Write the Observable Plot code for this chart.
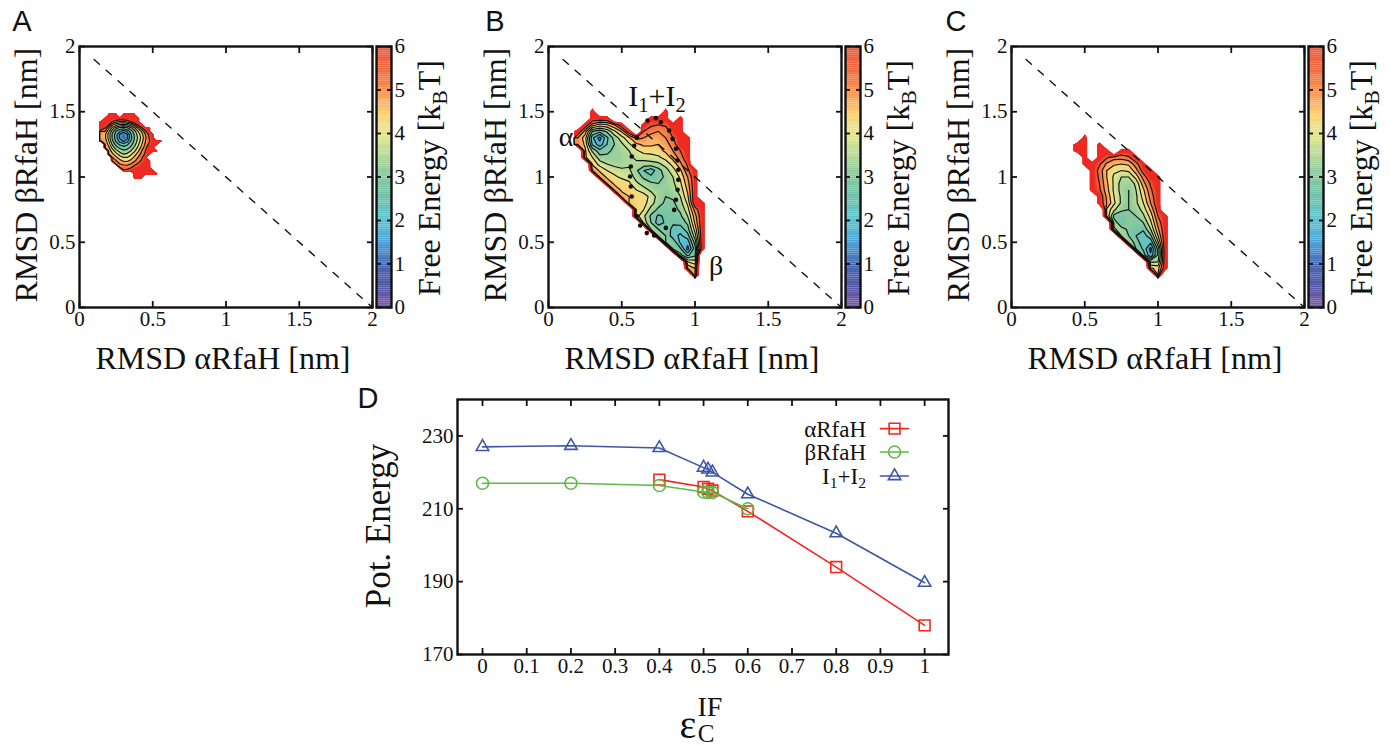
<!DOCTYPE html>
<html><head><meta charset="utf-8">
<script src="https://cdn.jsdelivr.net/npm/d3@7"></script>
<script src="https://cdn.jsdelivr.net/npm/@observablehq/plot@0.6"></script>
<style>
html,body{margin:0;padding:0;background:#fff}
#root{position:relative;width:1390px;height:746px;overflow:hidden;font-family:"Liberation Serif",serif;color:#111}
#root>svg{position:absolute}
.lb{position:absolute;white-space:nowrap;line-height:1}
.lb sub{font-size:.68em;line-height:0;vertical-align:-.3em}
</style></head><body><div id="root"></div>
<script>
const _ = NaN;
// ---- Free-energy maps: rows from top (high βRMSD) to bottom; columns low → high αRMSD
const gridAx = {start:0.15, step:0.025, n:17};
const gridAy = {start:1.475, step:0.025};
const gridA = [
[_,_,6,6,6,_,6,6,6,6,_,_,_,_,_,_,_],
[_,6,6,6,6,6,6,6,6,6,6,_,_,_,_,_,_],
[6,6,6,5.5,5.2,5,5,5.2,5.5,6,6,_,_,_,_,_,_],
[6,6,5.5,4.6,4.2,3.9,3.8,3.9,4.3,4.9,5.6,6,_,_,_,_,_],
[6,5.5,4.6,3.8,3.2,2.8,2.7,2.9,3.3,3.9,4.6,5.4,6,6,_,_,_],
[5,5,4.1,3.2,2.5,2.1,1.7,2.1,2.7,3.3,4,4.6,5.4,6,_,_,_],
[4.8,4.6,3.8,2.9,2.2,1.4,1,1.4,2.4,3.1,3.7,4.3,5,5.6,6,_,_],
[4.8,4.6,3.8,2.9,2.2,1.4,.9,1.3,2.3,3,3.6,4.2,4.9,5.5,6,_,_],
[5,4.8,4,3.1,2.4,1.8,1.4,1.8,2.5,3.1,3.7,4.3,5,5.4,6,6,6],
[_,5,4.3,3.4,2.8,2.4,2.2,2.4,2.8,3.3,3.9,4.5,5.1,5.6,6,6,_],
[_,5,4.6,3.8,3.2,2.9,2.7,2.8,3.1,3.6,4.1,4.7,5.3,6,6,_,_],
[_,_,4.8,4.3,3.7,3.3,3.1,3.2,3.5,3.9,4.4,5,5.5,6,6,6,_],
[_,_,5,4.6,4.2,3.8,3.5,3.6,3.9,4.3,4.7,5.2,5.6,6,_,_,_],
[_,_,_,5,4.6,4.2,4,4,4.2,4.6,5,5.4,6,_,_,_,_],
[_,_,_,5.2,5,4.7,4.4,4.4,4.6,4.9,5.2,5.6,5.9,6,_,_,_],
[_,_,_,_,5.2,5,4.9,4.8,5,5.3,5.6,5.8,6,6,_,_,_],
[_,_,_,_,_,5.4,5.2,5.3,5.4,5.7,5.8,6,6,6,_,_,_],
[_,_,_,_,_,_,5.6,5.6,5.8,6,6,6,6,6,6,_,_],
[_,_,_,_,_,_,_,_,_,6,6,6,6,6,6,6,_],
[_,_,_,_,_,_,_,_,_,6,6,6,_,_,_,_,_]
];
const gridBx = {start:0.20, step:0.05, n:19};
const gridBy = {start:1.50, step:0.05};
const gridB = [
[_,_,6,_,_,_,_,_,_,_,_,_,6,_,_,_,_,_,_],
[_,_,6,6,6,_,_,_,_,_,6,6,6,_,6,_,_,_,_],
[_,6,4.8,4.3,4.5,5,6,_,_,6,5.6,5.5,5.6,6,6,_,_,_,_],
[6,4.8,3,2.7,3.1,3.9,4.6,6,_,5.5,5.2,5,5.2,5.8,6,_,_,_,_],
[5,4.2,2.1,1.3,2.4,3.2,3.8,4.4,5.2,5,4.7,4.8,5,5.5,6,6,_,_,_],
[5,4.4,2.4,1.7,2.5,3,3.4,3.9,4.4,4.6,4.6,4.5,4.8,5.2,6,6,_,_,_],
[_,4.6,3.4,2.7,2.9,3.1,3.3,3.5,3.9,4.2,4.2,4.3,4.6,5,5.5,6,_,_,_],
[_,4.6,4,3.2,3.1,3.1,3.2,3.4,3.6,3.7,3.8,3.9,4.2,4.7,5.2,6,_,_,_],
[_,_,4.4,3.8,3.5,3.3,3.3,3.4,3.4,3.3,3.3,3.4,3.7,4.2,4.9,5.6,_,_,_],
[_,_,5,4.4,4,3.8,3.6,3.6,3.1,2.5,2.2,2.8,3.3,3.8,4.4,5.4,6,_,_],
[_,_,_,4.9,4.4,4.1,3.9,3.8,3.3,2.9,2.6,2.8,3.1,3.5,4.1,5,6,_,_],
[_,_,_,_,4.9,4.4,4.3,4.1,3.6,3.3,3.1,3,3.1,3.4,3.9,4.8,6,_,_],
[_,_,_,_,_,4.9,4.4,4.4,4,3.7,3.4,3.2,3.1,3.3,3.7,4.6,6,_,_],
[_,_,_,_,_,_,4.8,4.5,4.3,4.3,3.8,3.3,3,3.1,3.5,4.4,6,_,_],
[_,_,_,_,_,_,_,4.5,4.3,4.2,3.7,3.2,2.9,2.9,3.3,4.1,6,6,_],
[_,_,_,_,_,_,_,_,4.5,4,3.3,2.9,2.8,2.8,3.1,3.8,5.2,6,_],
[_,_,_,_,_,_,_,_,4.2,3.6,2.9,2.4,2.6,2.7,2.9,3.5,4.8,6,_],
[_,_,_,_,_,_,_,_,_,3.8,3,2.2,2.6,2.6,2.7,3.1,4.6,6,_],
[_,_,_,_,_,_,_,_,_,_,3.4,3,2.9,2.3,2.2,2.8,4.2,6,_],
[_,_,_,_,_,_,_,_,_,_,_,3.2,3,2.2,1.9,2.3,3.8,6,_],
[_,_,_,_,_,_,_,_,_,_,_,_,3,2.9,1.9,1.7,3.2,6,_],
[_,_,_,_,_,_,_,_,_,_,_,_,_,2.9,2.6,1.3,2.8,6,_],
[_,_,_,_,_,_,_,_,_,_,_,_,_,_,3.2,2.4,2.9,_,_],
[_,_,_,_,_,_,_,_,_,_,_,_,_,_,_,4,3.7,_,_],
[_,_,_,_,_,_,_,_,_,_,_,_,_,_,_,5,4.5,_,_],
[_,_,_,_,_,_,_,_,_,_,_,_,_,_,_,_,4.5,_,_]
];
const gridCx = {start:0.45, step:0.05, n:14};
const gridCy = {start:1.30, step:0.05};
const gridC = [
[_,6,_,_,_,_,_,_,_,_,_,_,_,_],
[6,6,_,6,_,_,_,_,_,_,_,_,_,_],
[6,6,_,6,6,_,6,6,_,_,_,_,_,_],
[_,6,_,6,5.6,5.2,5.2,5.4,6,_,_,_,_,_],
[_,6,6,5.6,4.9,4.6,4.5,4.6,5.3,6,_,_,_,_],
[_,_,6,5.3,4.5,4.1,4,4.1,4.8,5.8,6,_,_,_],
[_,_,6,5.4,4.5,3.9,3.5,3.5,4.2,5.2,6,6,_,_],
[_,_,6,5.5,4.6,3.9,3.3,3.2,3.6,4.8,5.6,6,_,_],
[_,_,6,5.6,4.7,3.9,3.3,3,3.5,4.4,5.4,6,_,_],
[_,_,_,6,4.9,4,3.4,3,3.4,4.2,5.2,6,_,_],
[_,_,_,6,5,4.1,3.4,3,3.4,4,5,6,_,_],
[_,_,_,_,4.4,3.6,3.1,3,3.2,3.7,4.6,5.8,_,_],
[_,_,_,_,4.5,2.8,2.7,2.9,3,3.4,4.2,5.5,6,_],
[_,_,_,_,_,3.3,2.6,2.9,2.9,3,3.9,5.2,6,_],
[_,_,_,_,_,3.6,3.2,2.9,2.7,2.6,3.5,4.9,6,_],
[_,_,_,_,_,_,3.4,3,2.5,2.2,2.9,4.5,6,_],
[_,_,_,_,_,_,_,3.2,2.9,2,2.1,3.9,6,_],
[_,_,_,_,_,_,_,_,3,2.4,1.3,3.2,6,_],
[_,_,_,_,_,_,_,_,_,2.8,1.6,3.1,6,_],
[_,_,_,_,_,_,_,_,_,_,3.4,3.5,6,_],
[_,_,_,_,_,_,_,_,_,_,4.6,4.3,6,_],
[_,_,_,_,_,_,_,_,_,_,_,4.5,_,_]
];
// I1+I2 boundary dots in panel B
const dotsAlpha = [.676,.733,.767,.824,.847,.870,.881,.886,.886,.881,.870,.858,.801,.721,.671,.626,.603,.568,.562,.557,.562,.568,.585,.603];
const dotsBeta  = [1.433,1.451,1.42,1.356,1.292,1.216,1.126,1.055,.978,.902,.825,.748,.610,.552,.570,.628,.700,.851,.927,1.004,1.080,1.157,1.239,1.305];
// dividing line
const diagX = [0.1, 2], diagY = [1.9, 0];
// colour
const colorStops  = [0, .5, 1, 1.5, 2, 2.5, 3, 3.5, 4, 4.4, 5, 5.5, 6];
const colorValues = ["#7a5ba6","#4f57a4","#4668b2","#4aa3d8","#5cc4d2","#6cc2ad","#85c99f","#b6da97","#e4e68e","#fbd477","#f98f4e","#f0683e","#ec5a3c"];
const mapStops  = [...colorStops.slice(0,-1), 5.75, 5.9];
const mapValues = [...colorValues.slice(0,-1), "#ee4a30", "#ee2a22"];
// Panel D
const epsAlpha = [.4,.5,.51,.52,.6,.8,1];
const potAlpha = [218,216,215.5,215,209.3,194,178];
const epsBeta  = [0,.2,.4,.5,.51,.52,.6];
const potBeta  = [217,217,216.4,214.6,214.5,214.5,210];
const epsI     = [0,.2,.4,.5,.51,.52,.6,.8,1];
const potI     = [227,227.3,226.7,221.3,220.8,220,214,203.3,189.7];
const epsTicks = [0,.1,.2,.3,.4,.5,.6,.7,.8,.9,1];
const potTicks = [170,190,210,230];
const rmsdTicks = [0,.5,1,1.5,2];
const energyTicks = [0,1,2,3,4,5,6];
const seriesColors = {a:"#f4261e", b:"#5dba45", i:"#3f55a8"};
const legendX = [.90,.963], legendMarkX = [.932], legendY = [232,225.6,219];

const root = document.getElementById("root");
function put(svg,left,top){svg.style.left=left+"px";svg.style.top=top+"px";root.appendChild(svg);}
function label(html,x,y,size,o={}){
  const d=document.createElement("div");d.className="lb";d.innerHTML=html;
  d.style.left=x+"px";d.style.top=y+"px";d.style.fontSize=size+"px";
  if(o.family)d.style.fontFamily=o.family;
  d.style.transform=`translate(${o.end?"-100%":"-50%"},-50%)`+(o.rot?` rotate(${o.rot}deg)`:"");
  root.appendChild(d);
}
const fmt = d=>String(d);
const blackFrame = ()=>Plot.frame({stroke:"#111",strokeWidth:2.4});
function axes(xt,yt,size,pad){return [
  Plot.axisX({ticks:xt,tickFormat:fmt,tickSize:-6,tickPadding:pad+6,anchor:"bottom",fontSize:size,label:null,strokeWidth:1.8,stroke:"#111"}),
  Plot.axisX({ticks:xt,tickFormat:()=>"",tickSize:-6,anchor:"top",label:null,strokeWidth:1.8,stroke:"#111"}),
  Plot.axisY({ticks:yt,tickFormat:fmt,tickSize:-6,tickPadding:pad+6,anchor:"left",fontSize:size,label:null,strokeWidth:1.8,stroke:"#111"}),
  Plot.axisY({ticks:yt,tickFormat:()=>"",tickSize:-6,anchor:"right",label:null,strokeWidth:1.8,stroke:"#111"})
];}
// energies become "depth below the 6 kBT ceiling" so nested regions paint outside-in; unsampled cells sit well over the ceiling
const outsideE = 9;
function gridMarks(rows,gx,gy){
  const flat=rows.flat().map(e=>6-(Number.isNaN(e)?outsideE:e)), h=rows.length, d=gx.step/2, e=gy.step/2;
  const o={width:gx.n,height:h,value:Plot.identity,x1:gx.start-d,x2:gx.start+(gx.n-1)*gx.step+d,
           y1:gy.start+e,y2:gy.start-(h-1)*gy.step-e,smooth:true};
  return [
    Plot.contour(flat,{...o,fill:"value",stroke:"none",thresholds:d3.range(-1,6,.1)}),
    Plot.contour(flat,{...o,stroke:"#111",strokeWidth:1.15,fill:"none",thresholds:d3.range(.5,5,.5)})
  ];
}
function panel(left,letter,rows,gx,gy,extra=[]){
  put(Plot.plot({width:378,height:360,marginLeft:79,marginRight:6,marginTop:46,marginBottom:53,
    x:{domain:[0,2]},y:{domain:[0,2]},
    color:{type:"linear",domain:[-1.5,...mapStops.map(s=>6-s).reverse()],range:["#ee2a22",...mapValues.slice().reverse()]},
    style:{fontFamily:"Liberation Serif",background:"transparent",color:"#111"},
    marks:[
      ...gridMarks(rows,gx,gy),
      Plot.line(diagX.map((x,i)=>({x,y:diagY[i]})),{x:"x",y:"y",stroke:"#111",strokeWidth:1.4,strokeDasharray:"7 9"}),
      ...extra,
      ...axes(rmsdTicks,rmsdTicks,21,4),
      blackFrame()
    ]}),left,0);
  // colour bar
  const bands=d3.range(0,6,.05);
  put(Plot.plot({width:46,height:360,marginLeft:4,marginRight:27,marginTop:46,marginBottom:53,
    x:{domain:[0,1],axis:null},y:{domain:[0,6]},
    color:{type:"linear",domain:colorStops,range:colorValues},
    style:{fontFamily:"Liberation Serif",background:"transparent",color:"#111"},
    marks:[
      Plot.rect(bands,{x1:0,x2:1,y1:d=>d,y2:d=>d+.05,fill:d=>d+.025}),
      Plot.axisY({ticks:energyTicks,tickFormat:fmt,tickSize:-5,tickPadding:8,anchor:"right",fontSize:21,label:null,strokeWidth:1.8,stroke:"#111"}),
      Plot.axisY({ticks:energyTicks,tickFormat:()=>"",tickSize:-5,anchor:"left",label:null,strokeWidth:1.8,stroke:"#111"}),
      blackFrame()
    ]}),left+372,0);
  label("RMSD αRfaH [nm]",left+223,358,32);
  label("RMSD βRfaH [nm]",left+26,175,32,{rot:-90});
  label("Free Energy [k<sub>B</sub>T]",left+429,178,32,{rot:-90});
  label(letter,left+22+(letter==="B"?4:letter==="C"?2:0),21,29,{family:"Liberation Sans"});
}
panel(0,"A",gridA,gridAx,gridAy);
panel(469,"B",gridB,gridBx,gridBy,[
  Plot.dot(dotsAlpha.map((x,i)=>({x,y:dotsBeta[i]})),{x:"x",y:"y",r:2.3,fill:"#111"})
]);
panel(932,"C",gridC,gridCx,gridCy);
label("I<sub>1</sub>+I<sub>2</sub>",657,96,30);
label("α",566,137,28);
label("β",716,266,28);

// Panel D
const rec=(X,Y)=>X.map((x,i)=>({x,y:Y[i]}));
const S=[
 {d:rec(epsAlpha,potAlpha),c:seriesColors.a,sym:"square",r:6.1},
 {d:rec(epsBeta,potBeta),c:seriesColors.b,sym:"circle",r:6},
 {d:rec(epsI,potI),c:seriesColors.i,sym:"triangle",r:4.6}
];
const seriesMarks=S.flatMap((s,i)=>[
  Plot.line(s.d,{x:"x",y:"y",stroke:s.c,strokeWidth:1.6}),
  Plot.dot(s.d,{x:"x",y:"y",stroke:s.c,symbol:s.sym,r:s.r,strokeWidth:1.6,fill:"none"}),
  Plot.line(legendX.map(x=>({x,y:legendY[i]})),{x:"x",y:"y",stroke:s.c,strokeWidth:1.6}),
  Plot.dot(legendMarkX.map(x=>({x,y:legendY[i]})),{x:"x",y:"y",stroke:s.c,symbol:s.sym,r:s.r,strokeWidth:1.6,fill:"none"})
]);
put(Plot.plot({width:560,height:300,marginLeft:57,marginRight:12,marginTop:19,marginBottom:26,
  x:{domain:[-.0566,1.054]},y:{domain:[170,240]},
  style:{fontFamily:"Liberation Serif",background:"transparent",color:"#111"},
  marks:[...seriesMarks,...axes(epsTicks,potTicks,21,4),blackFrame()]}),400,380);
label("αRfaH",866,429,23,{end:true});
label("βRfaH",866,452,23,{end:true});
label("I<sub>1</sub>+I<sub>2</sub>",866,476,23,{end:true});
label("Pot. Energy",378,526,35,{rot:-90});
label("ε",688,725,40);
label("IF",710,707,28);
label("C",706,733,25);
label("D",368,398,29,{family:"Liberation Sans"});
</script></body></html>
